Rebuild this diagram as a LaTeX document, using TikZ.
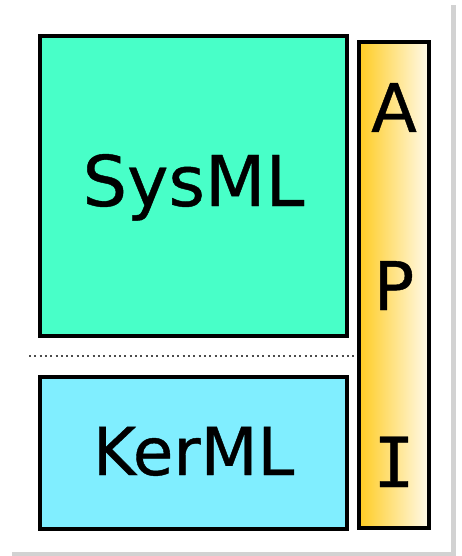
\documentclass[tikz,border=0pt]{standalone}
\usepackage{fontspec}
\setmainfont{DejaVu Sans}
\newfontfamily\layerfont[FakeBold=0.6]{DejaVu Sans}
\newfontfamily\serifbar[FakeBold=0.6]{DejaVu Sans Mono}
\usepackage{tikz}

\definecolor{sysmlgreen}{RGB}{72,255,200}
\definecolor{kermlblue}{RGB}{128,238,255}
\definecolor{apigold}{RGB}{255,204,34}
\definecolor{apicream}{RGB}{255,250,235}

\begin{document}
\begin{tikzpicture}[x=1pt,y=-1pt,
  layerbox/.style={draw=black,line width=3.5pt,inner sep=0pt},
  lbl/.style={anchor=base,inner sep=0pt}]
\useasboundingbox (0,0) rectangle (462,556);

% hoja con sombra
\fill[gray!35] (12,5) rectangle (456,556);
\fill[white] (8,0) rectangle (451,552);

% capas
\node[layerbox,fill=sysmlgreen,minimum width=307pt,minimum height=300pt] (sysml) at (193.5,186) {};
\node[layerbox,fill=kermlblue,minimum width=307pt,minimum height=152pt] (kerml) at (193.5,453) {};
\node[lbl,font=\layerfont\fontsize{70}{70}\selectfont] (sysmltxt) at (193.5,206) {SysML};
\node[lbl,font=\layerfont\fontsize{66}{66}\selectfont] (kermltxt) at (193.5,475) {KerML};

% separacion punteada
\draw[gray!60!black,line width=2.5pt,dash pattern=on 2pt off 3.3pt] (29,356) -- (358,356);

% barra API
\node[layerbox,left color=apigold,right color=apicream,minimum width=70pt,minimum height=486pt] (api) at (394,285) {};
\foreach \ch/\yy/\nm in {A/132/apia,P/310/apip}
  \node[lbl,font=\layerfont\fontsize{67}{67}\selectfont] (\nm) at (394,\yy) {\ch};
\node[lbl,font=\serifbar\fontsize{69}{69}\selectfont] (apii) at (394,487) {I};
\end{tikzpicture}
\end{document}
